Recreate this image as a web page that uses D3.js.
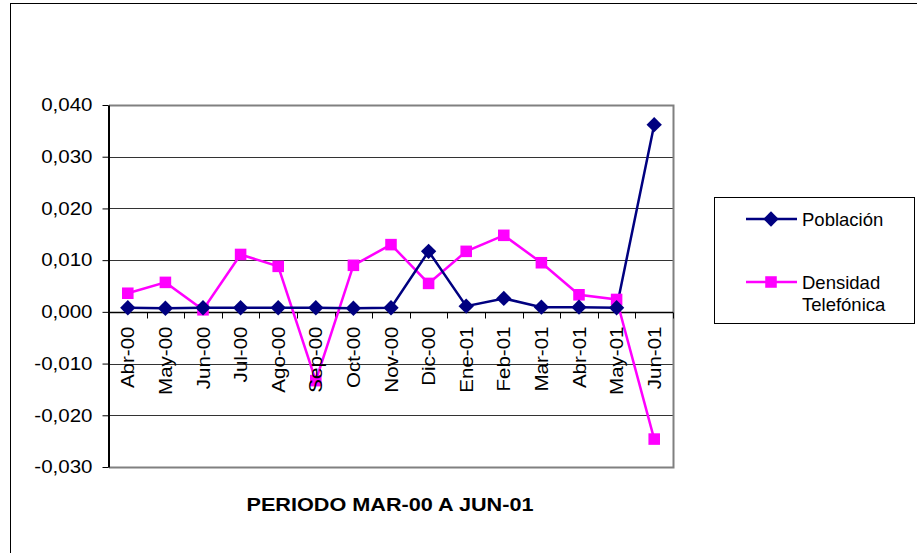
<!DOCTYPE html>
<html>
<head>
<meta charset="utf-8">
<script src="https://cdn.jsdelivr.net/npm/d3@7"></script>
<style>
  body { margin: 0; background: #fff; }
  text { font-family: "Liberation Sans", Arial, sans-serif; }
</style>
</head>
<body>
<svg id="chart" width="917" height="553"></svg>
<script>
var months = ["Abr-00", "May-00", "Jun-00", "Jul-00", "Ago-00", "Sep-00", "Oct-00", "Nov-00",
              "Dic-00", "Ene-01", "Feb-01", "Mar-01", "Abr-01", "May-01", "Jun-01"];
var poblacion = [0.0008, 0.0007, 0.0008, 0.0008, 0.0008, 0.0008, 0.0007, 0.0008,
                 0.0117, 0.0011, 0.0026, 0.0009, 0.0009, 0.0008, 0.0362];
var densidad = [0.0036, 0.0057, 0.0004, 0.0111, 0.0088, -0.0133, 0.0090, 0.0130,
                0.0055, 0.0117, 0.0148, 0.0095, 0.0033, 0.0024, -0.0246];
var yTicks = [-0.03, -0.02, -0.01, 0, 0.01, 0.02, 0.03, 0.04];
var title = "PERIODO MAR-00 A JUN-01";

var svg = d3.select("#chart");
var plotL = 109, plotR = 673, plotT = 105, plotB = 467;
var stretch = "scale(1.14,1)";

// outer frame
svg.append("rect")
    .attr("x", 10.5).attr("y", 3.5)
    .attr("width", 940).attr("height", 600)
    .attr("fill", "none").attr("stroke", "#000").attr("stroke-width", 1);

var x = d3.scaleBand().domain(months).range([plotL, plotR]);
var y = d3.scaleLinear().domain([-0.03, 0.04]).range([plotB, plotT]);
var fmt = d => d3.format(".3f")(d).replace("\u2212", "-").replace(".", ",");

// gridlines
svg.append("g")
  .selectAll("line")
  .data(yTicks.filter(d => d < 0.04 && d > -0.03))
  .join("line")
    .attr("x1", plotL).attr("x2", plotR)
    .attr("y1", d => Math.round(y(d)) + 0.5).attr("y2", d => Math.round(y(d)) + 0.5)
    .attr("stroke", "#333").attr("stroke-width", 1);

// plot border (gray)
svg.append("path")
    .attr("d", "M" + plotL + "," + (plotT + 0.5) + "H" + (plotR + 0.5) + "V" + (plotB + 0.5) + "H" + plotL)
    .attr("fill", "none").attr("stroke", "#808080").attr("stroke-width", 2);

// y axis
var yAxis = svg.append("g")
    .attr("transform", "translate(" + (plotL - 0.5) + ",0)")
    .call(d3.axisLeft(y).tickValues(yTicks).tickFormat(fmt).tickSize(6).tickSizeOuter(0));
yAxis.select(".domain").attr("stroke", "#000").attr("stroke-width", 2);
yAxis.selectAll(".tick line").attr("stroke", "#000");
yAxis.selectAll(".tick text")
    .attr("x", 0)
    .attr("transform", "translate(-16,0) " + stretch)
    .attr("font-size", 18).attr("fill", "#000")
    .attr("font-family", "Liberation Sans, Arial, sans-serif");

// x axis at zero
var y0 = Math.round(y(0)) + 0.5;
svg.append("line")
    .attr("x1", plotL).attr("x2", plotR)
    .attr("y1", y0).attr("y2", y0)
    .attr("stroke", "#000").attr("stroke-width", 1.5);
svg.append("g")
  .selectAll("line")
  .data(months)
  .join("line")
    .attr("x1", d => Math.round(x(d) + x.step()) + 0.5)
    .attr("x2", d => Math.round(x(d) + x.step()) + 0.5)
    .attr("y1", y0).attr("y2", y0 + 6)
    .attr("stroke", "#000");

// lines
var series = [
  { name: "Población", values: poblacion, color: "#000080", shape: d3.symbolDiamond2, size: 150 },
  { name: "Densidad Telefónica", values: densidad, color: "#FF00FF", shape: d3.symbolSquare2, size: 170 }
];

var line = d3.line()
    .x((d, i) => x(months[i]) + x.bandwidth() / 2)
    .y(d => y(d));

series.slice().reverse().forEach(function(s) {
  svg.append("path")
      .attr("d", line(s.values))
      .attr("fill", "none")
      .attr("stroke", s.color)
      .attr("stroke-width", 2.5);
});
series.slice().reverse().forEach(function(s) {
  svg.append("g")
    .selectAll("path")
    .data(s.values)
    .join("path")
      .attr("transform", (d, i) => "translate(" + (x(months[i]) + x.bandwidth() / 2) + "," + y(d) + ")")
      .attr("d", d3.symbol().type(s.shape).size(s.size))
      .attr("fill", s.color)
      .attr("stroke", "none");
});

// category labels on top of the marks
svg.append("g")
  .selectAll("text")
  .data(months)
  .join("text")
    .attr("transform", d => "translate(" + (x(d) + x.bandwidth() / 2 + 6.5) + "," + (y0 + 14) + ") rotate(-90) " + stretch)
    .attr("text-anchor", "end")
    .attr("font-size", 18)
    .text(d => d);

// title
svg.append("text")
    .attr("transform", "translate(390,511) " + stretch)
    .attr("text-anchor", "middle")
    .attr("font-size", 19).attr("font-weight", "bold")
    .text(title);

// legend
var lg = svg.append("g");
lg.append("rect")
    .attr("x", 714.5).attr("y", 197.5)
    .attr("width", 200).attr("height", 126)
    .attr("fill", "#fff").attr("stroke", "#000");

var legY = [219, 282];
series.forEach(function(s, i) {
  lg.append("line")
      .attr("x1", 746).attr("x2", 797)
      .attr("y1", legY[i]).attr("y2", legY[i])
      .attr("stroke", s.color).attr("stroke-width", 2.5);
  lg.append("path")
      .attr("transform", "translate(771," + legY[i] + ")")
      .attr("d", d3.symbol().type(s.shape).size(s.size))
      .attr("fill", s.color);
  var words = i === 0 ? ["Población"] : ["Densidad", "Telefónica"];
  words.forEach(function(w, j) {
    lg.append("text")
        .attr("x", 802).attr("y", legY[i] + 7 + j * 22)
        .attr("font-size", 18.5)
        .text(w);
  });
});
</script>
</body>
</html>
